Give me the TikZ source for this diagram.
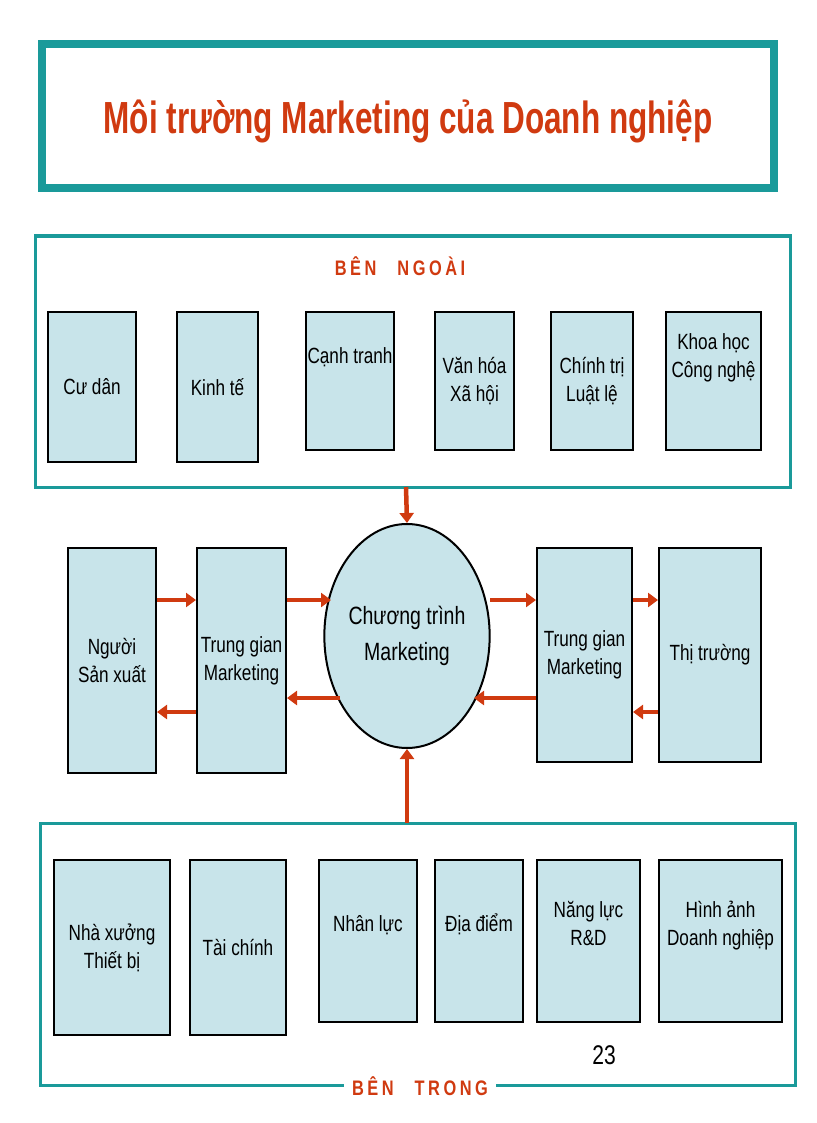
\documentclass[tikz,border=0pt]{standalone}
\usepackage{fontspec}
\setmainfont[FakeStretch=0.78]{Liberation Sans}
\newfontfamily\titlefont[FakeStretch=0.7]{Liberation Sans}
\usetikzlibrary{arrows.meta,shapes.geometric}
\definecolor{teal1}{HTML}{1A9A9A}
\definecolor{boxfill}{HTML}{C8E4EA}
\definecolor{redo}{HTML}{D03A10}
\begin{document}
\begin{tikzpicture}[x=1pt,y=-1pt,
  bx/.style={draw=black,line width=2pt,fill=boxfill,align=center,font=\fontsize{22}{28}\selectfont,inner sep=0},
  arr/.style={-{Triangle[length=10pt,width=14pt]},line width=4.5pt,draw=redo},
  hdr/.style={font=\bfseries\fontsize{21}{24}\selectfont,text=redo}]
\useasboundingbox (0,0) rectangle (816,1123);
\draw[teal1,line width=8pt] (42,44) rectangle (774,188);
\node[font=\titlefont\bfseries\fontsize{45}{50}\selectfont,text=redo] (title) at (408,121) {Môi trường Marketing của Doanh nghiệp};
\draw[teal1,line width=3pt] (35,236) rectangle (790,487);
\node[hdr] (ngoai) at (400,266) {B\,Ê\,N\quad N\,G\,O\,À\,I};
\def\B#1#2#3#4#5#6{\node[bx,minimum width={#3-#2},minimum height={#5-#4}] (#1) at ({(#2+#3)/2},{(#4+#5)/2}) {#6};}
\B{cd}{48}{136}{312}{462}{Cư dân}
\B{kt}{177}{258}{312}{462}{Kinh tế}
\B{ct}{306}{394}{312}{450}{Cạnh tranh\\[22pt]}
\B{vh}{435}{514}{312}{450}{Văn hóa\\Xã hội}
\B{cti}{551}{633}{312}{450}{Chính trị\\Luật lệ}
\B{kh}{666}{761}{312}{450}{Khoa học\\Công nghệ\\[22pt]}
\B{nsx}{68}{156}{548}{773}{Người\\Sản xuất}
\B{tg1}{197}{286}{548}{773}{Trung gian\\Marketing}
\B{tg2}{537}{632}{548}{762}{Trung gian\\Marketing}
\B{tt}{659}{761}{548}{762}{Thị trường}
\node[ellipse,draw=black,line width=2pt,fill=boxfill,inner sep=0pt,minimum width=161pt,minimum height=224pt,align=center,font=\fontsize{25}{36}\selectfont] (ctm) at (407,636) {Chương trình\\Marketing};
\coordinate (top) at (406,487);
\draw[arr] (top) -- (ctm.north);
\draw[arr] (nsx.east|-0,600) -- (tg1.west|-0,600);
\draw[arr] (tg1.east|-0,600) -- (331,600);
\draw[arr] (490,600) -- (tg2.west|-0,600);
\draw[arr] (tg2.east|-0,600) -- (tt.west|-0,600);
\draw[arr] (tg1.west|-0,712) -- (nsx.east|-0,712);
\draw[arr] (340,698) -- (tg1.east|-0,698);
\draw[arr] (tg2.west|-0,698) -- (474,698);
\draw[arr] (tt.west|-0,712) -- (tg2.east|-0,712);
\draw[teal1,line width=3pt] (40,823) rectangle (795,1085);
\coordinate (bot) at (407,823);
\draw[arr] (bot) -- (ctm.south);
\node[hdr,fill=white,inner xsep=8pt] (trong) at (420,1086) {B\,Ê\,N\quad T\,R\,O\,N\,G};
\B{nx}{54}{170}{860}{1035}{Nhà xưởng\\Thiết bị}
\B{tc}{190}{286}{860}{1035}{Tài chính}
\B{nl}{319}{417}{860}{1022}{Nhân lực\\[8pt]}
\B{dd}{435}{523}{860}{1022}{Địa điểm\\[8pt]}
\B{nlr}{537}{640}{860}{1022}{Năng lực\\R\&D\\[8pt]}
\B{ha}{659}{782}{860}{1022}{Hình ảnh\\Doanh nghiệp\\[8pt]}
\node[font=\fontsize{27}{30}\selectfont] (pg) at (604,1055) {23};
\end{tikzpicture}
\end{document}
